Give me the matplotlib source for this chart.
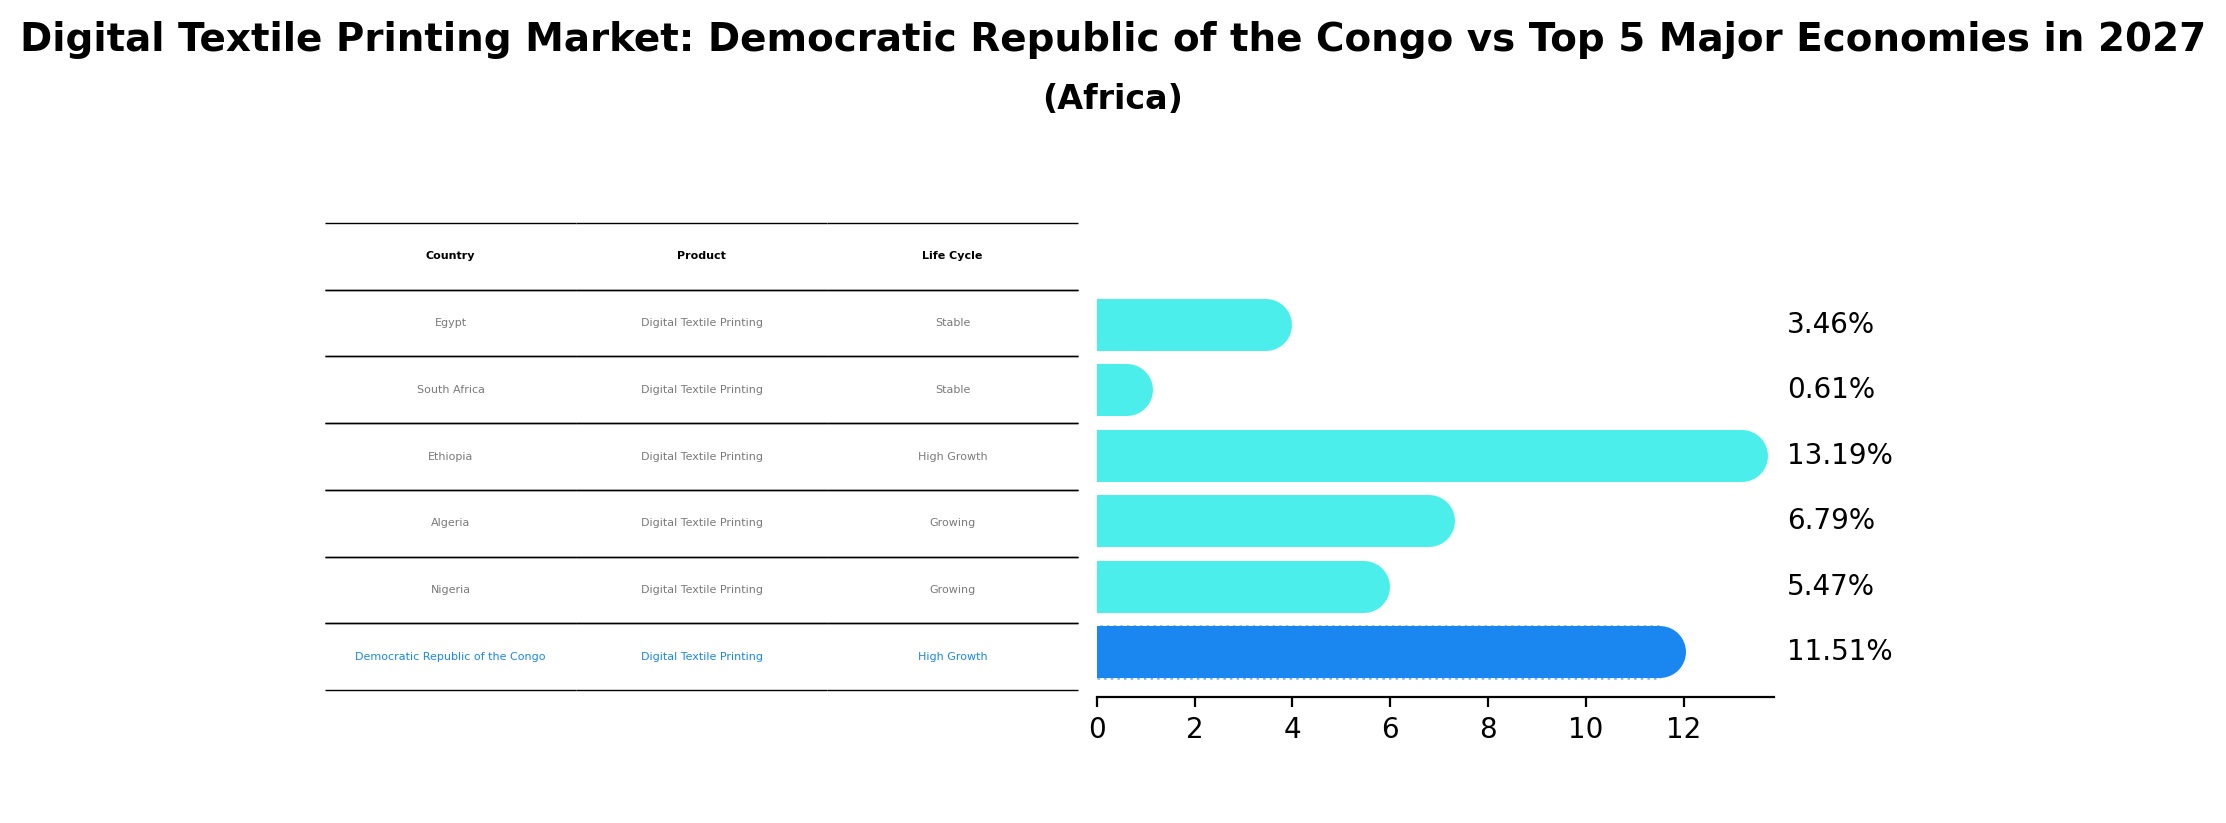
import matplotlib
matplotlib.use("Agg")
import matplotlib.pyplot as plt

countries = ["Egypt", "South Africa", "Ethiopia", "Algeria", "Nigeria",
             "Democratic Republic of the Congo"]
products = ["Digital Textile Printing"] * 6
life_cycle = ["Stable", "Stable", "High Growth", "Growing", "Growing", "High Growth"]
values = [3.46, 0.61, 13.19, 6.79, 5.47, 11.51]
highlight = "Democratic Republic of the Congo"

CYAN = "#4beeea"
BLUE = "#1a87f0"
GREY = "#7a7a7a"

fig = plt.figure(figsize=(11.13, 4.115), dpi=200)

# Title
fig.text(0.5, 0.938, "Digital Textile Printing Market: Democratic Republic of the Congo vs Top 5 Major Economies in 2027",
         ha="center", va="baseline", fontsize=14, fontweight="bold")
fig.text(0.5, 0.868, "(Africa)", ha="center", va="baseline", fontsize=12, fontweight="bold")

# Table
tax = fig.add_axes([0.146, 0.1616, 0.3383, 0.5674])
tax.axis("off")
cell_text = [[c, p, l] for c, p, l in zip(countries, products, life_cycle)]
tbl = tax.table(cellText=cell_text, colLabels=["Country", "Product", "Life Cycle"],
                cellLoc="center", loc="center", bbox=[0, 0, 1, 1], edges="horizontal")
tbl.auto_set_font_size(False)
tbl.set_fontsize(4)
for (r, c), cell in tbl.get_celld().items():
    cell.set_linewidth(0.5)
    t = cell.get_text()
    if r == 0:
        t.set_fontweight("bold")
        t.set_color("black")
    else:
        if countries[r - 1] == highlight:
            t.set_color(BLUE)
        else:
            t.set_color(GREY)

# Bars
ax = fig.add_axes([0.4928, 0.1531, 0.3041, 0.5067])
ypos = list(range(len(countries)))[::-1]
colors = [BLUE if c == highlight else CYAN for c in countries]
lw_pts = 52 * 72 / 200
for y, v, col, c in zip(ypos, values, colors, countries):
    if c == highlight:
        ax.barh(y, v, height=0.8, color="none", edgecolor="#6db4f7",
                linewidth=0.9, linestyle=":", zorder=1)
    ax.hlines(y, 0, v, colors=col, linewidth=lw_pts, capstyle="round", zorder=2)
    ax.text(max(values) * 1.07, y, f"{v:.2f}%", va="center", ha="left", fontsize=10)

ax.set_ylim(-0.69, 5.69)
ax.set_xlim(0, max(values) * 1.05)
ax.set_xticks([0, 2, 4, 6, 8, 10, 12])
ax.set_yticks([])
for s in ["left", "top", "right"]:
    ax.spines[s].set_visible(False)

fig.savefig("out.png", dpi=200)
